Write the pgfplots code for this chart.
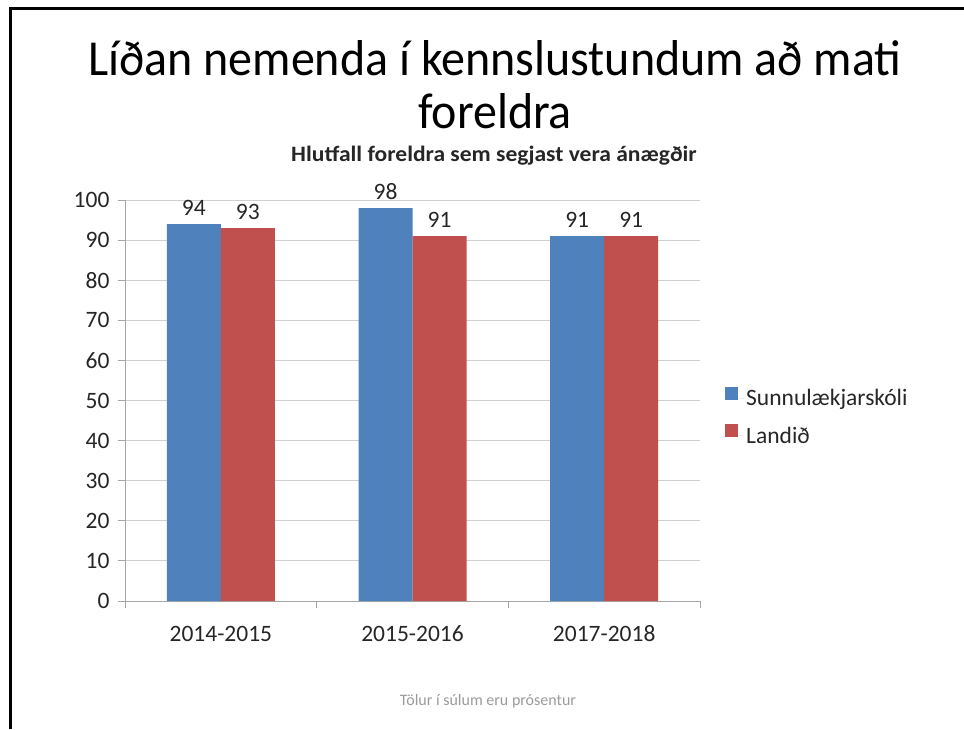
\documentclass[border=0pt]{standalone}
\usepackage{fontspec}
\setmainfont{Carlito}
\usepackage{pgfplots}
\pgfplotsset{compat=1.18}
\definecolor{sblue}{HTML}{4F81BD}
\definecolor{sred}{HTML}{C0504D}
\definecolor{axisgray}{HTML}{A6A6A6}
\definecolor{gridgray}{HTML}{D0D0D0}
\definecolor{txt}{HTML}{262626}
\definecolor{notegray}{HTML}{9A9A9A}
\begin{document}
\begin{tikzpicture}
\useasboundingbox (0pt,0pt) rectangle (964pt,-729pt);
\draw[line width=3pt] (10.3pt,-729pt) -- (10.3pt,-8.8pt) -- (964pt,-8.8pt);
\node[anchor=base, font=\fontsize{48}{52}\selectfont, inner sep=0pt, yscale=1.05, transform shape] at (495pt,-75pt) {Líðan nemenda í kennslustundum að mati};
\node[anchor=base, font=\fontsize{48}{52}\selectfont, inner sep=0pt, yscale=1.05, transform shape] at (495pt,-128pt) {foreldra};
\node[anchor=base, font=\fontsize{22}{26}\selectfont\bfseries, text=txt, inner sep=0pt, xscale=1.07, transform shape] at (494pt,-161pt) {Hlutfall foreldra sem segjast vera ánægðir};
\node[anchor=base, font=\fontsize{16}{19}\selectfont, text=notegray, inner sep=0pt] at (488pt,-705pt) {Tölur í súlum eru prósentur};
\begin{axis}[
  at={(125pt,-601pt)}, anchor=south west,
  scale only axis, width=575pt, height=401pt,
  ymin=0, ymax=100, xmin=-0.5, xmax=2.5,
  ybar=0pt, bar width=54pt,
  axis x line*=bottom, axis y line*=left,
  axis line style={draw=axisgray, line width=1pt},
  ytick={0,10,...,100},
  ymajorgrids, grid style={draw=gridgray, line width=1pt},
  xtick={0,1,2}, xticklabels={2014-2015,2015-2016,2017-2018},
  minor xtick={-0.5,0.5,1.5,2.5},
  tick align=outside,
  major tick length=7pt, minor tick length=7pt,
  major x tick style={draw=none},
  minor x tick style={draw=axisgray, line width=1pt},
  y tick style={draw=axisgray, line width=1pt},
  /pgf/number format/assume math mode=true,
  ticklabel style={font=\fontsize{23.5}{28}\selectfont, text=txt},
  x tick label style={anchor=base, yshift=-33pt},
  y tick label style={xshift=-5pt},
  nodes near coords,
  every node near coord/.append style={font=\fontsize{23.5}{28}\selectfont, text=txt, yshift=5pt},
  legend style={at={(1,0.459)}, anchor=west, xshift=22pt, draw=none, fill=none,
    font=\fontsize{23.5}{28}\selectfont, text=txt, row sep=15pt,
    legend cell align=left},
]
\addplot[fill=sblue, draw=none, legend image code/.code={\fill[sblue] (0pt,-1.5pt) rectangle (13pt,11.5pt); \path (0pt,0pt) -- (19pt,0pt);}] coordinates {(0,94) (1,98) (2,91)};
\addplot[fill=sred, draw=none, legend image code/.code={\fill[sred] (0pt,-1.5pt) rectangle (13pt,11.5pt); \path (0pt,0pt) -- (19pt,0pt);}] coordinates {(0,93) (1,91) (2,91)};
\legend{Sunnulækjarskóli, Landið}
\end{axis}
\end{tikzpicture}
\end{document}
